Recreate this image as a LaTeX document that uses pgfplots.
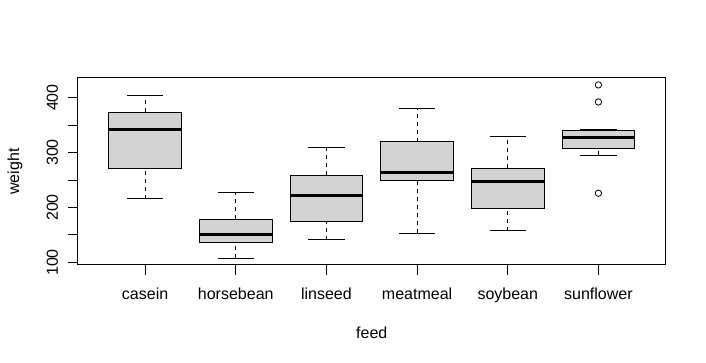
\documentclass[border=0pt]{standalone}
\usepackage{fontspec}
\setmainfont{Liberation Sans}
\usepackage{pgfplots}
\pgfplotsset{compat=1.18}
\definecolor{boxgray}{HTML}{D3D3D3}
\begin{document}
\begin{tikzpicture}
\useasboundingbox (0,0) rectangle (706pt,363pt);
\begin{axis}[
  at={(78pt,98pt)}, anchor=south west,
  scale only axis, width=587.5pt, height=187pt,
  xmin=0.26, xmax=6.74, ymin=95.4, ymax=435.6,
  axis line style={line width=1pt},
  tick style={line width=1pt, black},
  tick align=outside, major tick length=10pt,
  xtick={1,2,3,4,5,6},
  xticklabels={casein,horsebean,linseed,meatmeal,soybean,sunflower},
  ytick={100,150,200,250,300,350,400},
  yticklabels={100,,200,,300,,400},
  xtick pos=bottom, ytick pos=left,
  /pgf/number format/assume math mode=true,
  ticklabel style={font=\fontsize{16}{19}\selectfont},
  xticklabel style={yshift=-9pt},
  yticklabel style={rotate=90, anchor=base, yshift=10pt},
  label style={font=\fontsize{16}{19}\selectfont},
  xlabel={feed}, ylabel={weight},
  xlabel style={at={(axis description cs:0.5,0)}, anchor=center, yshift=-68pt},
  ylabel style={at={(axis description cs:0,0.5)}, anchor=center, yshift=63pt},
  every axis plot/.append style={black, line width=1pt},
  whisk/.style={dash pattern=on 4pt off 4pt},
  stp/.style={solid},
  bx/.style={fill=boxgray, draw=black},
  med/.style={line width=3pt},
]
% casein: 216 271.5 342 373.5 404
\addplot[whisk] coordinates {(1,216) (1,271.5)};
\addplot[whisk] coordinates {(1,373.5) (1,404)};
\addplot[stp] coordinates {(0.8,216) (1.2,216)};
\addplot[stp] coordinates {(0.8,404) (1.2,404)};
\addplot[bx] coordinates {(0.6,271.5) (1.4,271.5) (1.4,373.5) (0.6,373.5)} --cycle;
\addplot[med] coordinates {(0.6,342) (1.4,342)};
% horsebean: 108 136 151.5 179 227
\addplot[whisk] coordinates {(2,108) (2,136)};
\addplot[whisk] coordinates {(2,179) (2,227)};
\addplot[stp] coordinates {(1.8,108) (2.2,108)};
\addplot[stp] coordinates {(1.8,227) (2.2,227)};
\addplot[bx] coordinates {(1.6,136) (2.4,136) (2.4,179) (1.6,179)} --cycle;
\addplot[med] coordinates {(1.6,151.5) (2.4,151.5)};
% linseed: 141 175 221 258.5 309
\addplot[whisk] coordinates {(3,141) (3,175)};
\addplot[whisk] coordinates {(3,258.5) (3,309)};
\addplot[stp] coordinates {(2.8,141) (3.2,141)};
\addplot[stp] coordinates {(2.8,309) (3.2,309)};
\addplot[bx] coordinates {(2.6,175) (3.4,175) (3.4,258.5) (2.6,258.5)} --cycle;
\addplot[med] coordinates {(2.6,221) (3.4,221)};
% meatmeal: 153 249.5 263 320 380
\addplot[whisk] coordinates {(4,153) (4,249.5)};
\addplot[whisk] coordinates {(4,320) (4,380)};
\addplot[stp] coordinates {(3.8,153) (4.2,153)};
\addplot[stp] coordinates {(3.8,380) (4.2,380)};
\addplot[bx] coordinates {(3.6,249.5) (4.4,249.5) (4.4,320) (3.6,320)} --cycle;
\addplot[med] coordinates {(3.6,263) (4.4,263)};
% soybean: 158 199 248 271 329
\addplot[whisk] coordinates {(5,158) (5,199)};
\addplot[whisk] coordinates {(5,271) (5,329)};
\addplot[stp] coordinates {(4.8,158) (5.2,158)};
\addplot[stp] coordinates {(4.8,329) (5.2,329)};
\addplot[bx] coordinates {(4.6,199) (5.4,199) (5.4,271) (4.6,271)} --cycle;
\addplot[med] coordinates {(4.6,248) (5.4,248)};
% sunflower: 295 307.5 328 340.5 341, outliers 226 392 423
\addplot[whisk] coordinates {(6,295) (6,307.5)};
\addplot[whisk] coordinates {(6,340.5) (6,341)};
\addplot[stp] coordinates {(5.8,295) (6.2,295)};
\addplot[stp] coordinates {(5.8,341) (6.2,341)};
\addplot[bx] coordinates {(5.6,307.5) (6.4,307.5) (6.4,340.5) (5.6,340.5)} --cycle;
\addplot[med] coordinates {(5.6,328) (6.4,328)};
\addplot[only marks, mark=o, mark size=3.2pt, mark options={line width=0.8pt}] coordinates {(6,226) (6,392) (6,423)};
\end{axis}
\end{tikzpicture}
\end{document}
